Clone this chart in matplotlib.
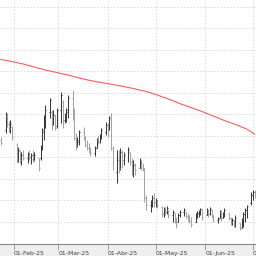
import numpy as np
import pandas as pd
import matplotlib
matplotlib.use("Agg")
import matplotlib.pyplot as plt
import matplotlib.dates as mdates
import matplotlib.transforms as mtrans

# ---- data (daily OHLC) ----
dates = pd.bdate_range("2025-01-24", "2025-07-02")

high = [16.3, 18.8, 18.7, 17.9, 18.0, 17.4,
        15.7, 15.3, 15.0, 14.8, 15.0, 14.8, 15.0, 14.7, 15.0, 14.8,
        14.2, 15.5, 17.2, 18.5, 19.5, 20.2, 19.0, 19.0, 18.5, 19.2,
        20.8, 20.0, 18.7, 19.2, 20.5, 21.0, 19.2, 16.7, 16.3, 17.0,
        17.3, 16.4, 16.0, 15.7, 15.3, 15.4, 16.2, 16.4, 16.6, 17.2,
        17.8, 17.7, 18.4, 18.7, 15.4, 15.0, 15.0, 15.2, 15.0, 14.8,
        15.3, 14.8, 14.2, 14.0, 13.7, 14.2, 14.0, 13.7, 13.2, 10.5,
        10.0, 10.5, 10.7, 10.2, 10.0, 9.4, 9.3, 9.3, 9.4, 9.0,
        9.0, 8.7, 8.3, 8.7, 9.0, 9.2, 8.8, 8.7, 8.5, 8.3,
        8.7, 8.9, 9.0, 9.2, 9.1, 9.2, 9.0, 9.3, 9.0, 8.5,
        8.3, 9.0, 9.0, 8.8, 9.2, 8.7, 8.3, 8.2, 8.0, 8.5,
        7.7, 8.2, 8.8, 9.2, 9.5, 10.8, 11.0, 11.0]

low = [15.5, 16.7, 17.3, 16.8, 16.7, 16.0,
       13.7, 13.8, 13.7, 13.5, 14.0, 13.7, 14.0, 13.6, 13.8, 13.9,
       12.9, 14.0, 15.0, 16.0, 17.2, 18.2, 17.0, 17.5, 17.0, 17.2,
       17.7, 17.2, 17.7, 17.8, 18.2, 18.0, 16.0, 15.0, 15.3, 15.5,
       16.0, 15.3, 15.0, 14.7, 14.4, 14.4, 15.2, 15.6, 15.7, 16.1,
       16.5, 16.3, 17.0, 15.0, 13.0, 11.7, 12.7, 13.0, 13.2, 13.5,
       13.8, 13.5, 12.5, 12.3, 12.5, 13.2, 13.0, 12.9, 9.8, 9.0,
       8.8, 9.3, 9.3, 9.3, 9.2, 8.3, 8.3, 8.5, 8.6, 8.2,
       7.8, 7.7, 7.2, 7.8, 8.3, 8.4, 8.2, 7.9, 7.7, 7.3,
       7.8, 8.2, 8.3, 8.5, 8.0, 8.5, 8.3, 8.5, 8.2, 7.8,
       7.7, 8.2, 7.9, 8.2, 8.3, 8.0, 7.5, 7.5, 7.3, 7.3,
       7.0, 7.2, 7.3, 7.8, 8.2, 9.5, 10.0, 10.2]

open_ = [16.0, 17.0, 18.4, 17.6, 17.2, 17.3,
         15.5, 14.0, 14.9, 14.0, 14.5, 14.2, 14.6, 14.3, 14.5, 14.1,
         14.2, 14.2, 15.2, 16.8, 18.2, 18.8, 18.8, 17.6, 18.5, 17.4,
         19.0, 19.8, 18.0, 18.5, 18.8, 20.2, 18.8, 16.2, 15.5, 15.8,
         16.8, 16.2, 15.5, 15.2, 15.0, 14.7, 15.2, 16.0, 15.8, 16.4,
         16.8, 17.5, 17.0, 18.5, 15.2, 12.8, 14.2, 13.2, 14.8, 14.0,
         14.5, 14.8, 13.8, 12.8, 13.5, 13.2, 13.8, 13.4, 13.0, 10.2,
         9.5, 9.7, 10.2, 9.8, 9.9, 9.3, 8.6, 9.0, 8.8, 9.0,
         8.5, 8.7, 8.0, 7.8, 8.5, 8.8, 8.8, 8.4, 8.1, 7.9,
         7.8, 8.5, 8.7, 8.9, 9.1, 8.5, 9.0, 8.6, 9.0, 8.5,
         8.0, 8.2, 8.8, 8.2, 8.6, 8.7, 8.2, 7.8, 8.0, 7.5,
         7.7, 7.2, 8.0, 8.6, 9.0, 9.7, 10.5, 10.8]

close = [15.7, 18.5, 17.6, 17.2, 17.6, 16.3,
         14.0, 15.0, 14.0, 14.5, 14.2, 14.6, 14.3, 14.5, 14.0, 14.5,
         13.2, 15.2, 17.0, 18.2, 19.0, 20.0, 17.5, 18.5, 17.2, 19.0,
         20.5, 18.0, 18.5, 19.0, 20.2, 19.0, 16.2, 15.5, 16.0, 16.8,
         16.2, 15.5, 15.2, 15.0, 14.7, 15.2, 16.0, 15.8, 16.4, 17.0,
         17.5, 17.0, 18.2, 15.2, 13.2, 14.0, 13.2, 14.8, 14.0, 14.5,
         15.0, 13.8, 12.8, 13.5, 13.0, 13.8, 13.2, 13.2, 10.2, 9.5,
         9.7, 10.2, 9.8, 10.0, 9.5, 8.6, 9.0, 8.8, 9.2, 8.5,
         8.8, 8.0, 7.5, 8.5, 8.8, 9.0, 8.4, 8.1, 7.9, 7.6,
         8.5, 8.7, 8.9, 9.1, 8.3, 9.0, 8.6, 9.1, 8.5, 8.0,
         8.1, 8.8, 8.2, 8.6, 9.0, 8.2, 7.8, 8.0, 7.5, 8.2,
         7.2, 8.0, 8.6, 9.0, 9.4, 10.5, 10.8, 10.6]

# moving average (weekly readings of the red line)
ma_dates = pd.to_datetime([
    "2025-01-24", "2025-01-31", "2025-02-07", "2025-02-14", "2025-02-21",
    "2025-02-28", "2025-03-07", "2025-03-14", "2025-03-21", "2025-03-28",
    "2025-04-04", "2025-04-11", "2025-04-17", "2025-04-25", "2025-05-02",
    "2025-05-09", "2025-05-16", "2025-05-23", "2025-05-30", "2025-06-06",
    "2025-06-13", "2025-06-20", "2025-06-27", "2025-07-02"])
ma_values = [24.05, 23.85, 23.6, 23.3, 23.0, 22.75, 22.5, 22.2, 21.95, 21.75,
             21.55, 21.35, 21.15, 20.85, 20.5, 20.1, 19.65, 19.25, 18.85, 18.4,
             17.95, 17.55, 17.1, 16.6]

tick_dates = pd.to_datetime(["2025-02-01", "2025-03-01", "2025-04-01",
                             "2025-05-01", "2025-06-01", "2025-07-01"])
tick_labels = ["01-Feb-25", "01-Mar-25", "01-Abr-25",
               "01-May-25", "01-Jun-25", "01-Jul-25"]

# ---- figure ----
fig = plt.figure(figsize=(2.56, 2.56), dpi=100, facecolor="#efefef")
ax = fig.add_axes([0, 12 / 256, 1, 244 / 256])
ax.set_facecolor("white")

x = mdates.date2num(dates)
o = np.array(open_)
c = np.array(close)
cols = np.where(c >= o, "#3a3a3a", "#a4a4a4")
ax.vlines(x, low, high, colors=cols, lw=0.75)
ax.hlines(o, x - 0.6, x, colors=cols, lw=0.75)
ax.hlines(c, x, x + 0.6, colors=cols, lw=0.75)

ax.plot(mdates.date2num(ma_dates), ma_values, color="#ff5a5a", lw=0.8)

# axes ranges (calendar scale)
feb1 = mdates.date2num(pd.Timestamp("2025-02-01"))
px_per_day = 1.597
left = feb1 - 13.5 / px_per_day
ax.set_xlim(left, left + 256 / px_per_day)
ax.set_ylim(5.6, 30.0)

ax.set_xticks(mdates.date2num(tick_dates))
ax.set_xticklabels(tick_labels, fontsize=4.4, color="#404040", ha="left")
offset = mtrans.ScaledTranslation(1.5 / 100, 0, fig.dpi_scale_trans)
for lbl in ax.get_xticklabels():
    lbl.set_transform(lbl.get_transform() + offset)
ax.tick_params(axis="x", direction="out", length=4, width=0.6,
               color="#909090", pad=1.2)
ax.set_yticks(25.0 + 2.15 * np.arange(-8, 3))
ax.tick_params(axis="y", left=False, labelleft=False)

for s in ["top", "left", "right"]:
    ax.spines[s].set_visible(False)
ax.spines["bottom"].set_color("#888888")
ax.spines["bottom"].set_linewidth(0.8)

ax.grid(True, color="#d6d6d6", ls=(0, (2, 2)), lw=0.6)
ax.set_axisbelow(True)

fig.savefig("out.png", dpi=100, facecolor=fig.get_facecolor())
